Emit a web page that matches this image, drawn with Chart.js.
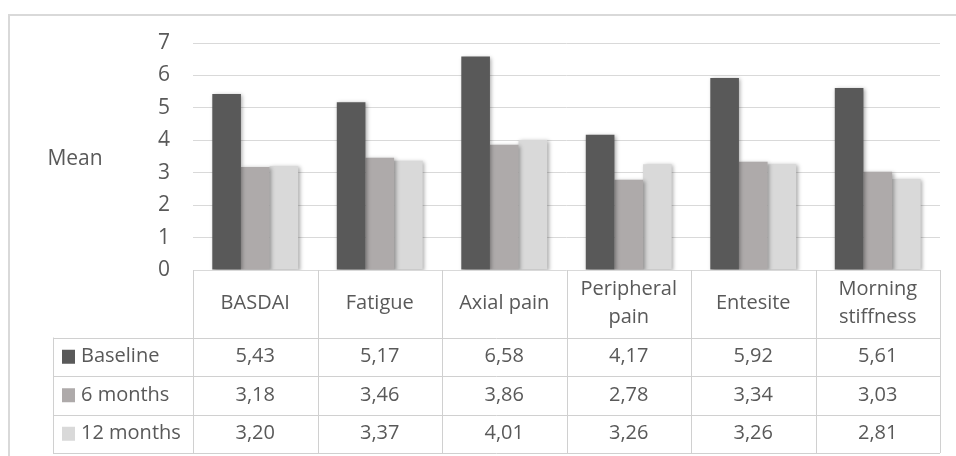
<!DOCTYPE html>
<html>
<head>
<meta charset="utf-8">
<script src="https://cdn.jsdelivr.net/npm/chart.js@4.4.1/dist/chart.umd.min.js"></script>
<style>
    html, body { margin: 0; padding: 0; background: #fff; }
    #wrap { width: 956px; height: 456px; position: relative; }
</style>
</head>
<body>
<div id="wrap"><canvas id="chart"></canvas></div>
<script>
const categories = ['BASDAI', 'Fatigue', 'Axial pain', ['Peripheral', 'pain'], 'Entesite', ['Morning', 'stiffness']];
const seriesNames = ['Baseline', '6 months', '12 months'];
const baseline = [5.43, 5.17, 6.58, 4.17, 5.92, 5.61];
const sixMonths = [3.18, 3.46, 3.86, 2.78, 3.34, 3.03];
const twelveMonths = [3.20, 3.37, 4.01, 3.26, 3.26, 2.81];
const yMin = 0, yMax = 7, yStep = 1;
const yTitle = 'Mean';

const colors = ['#595959', '#aeaaaa', '#d9d9d9'];
const textColor = '#595959';
const lineColor = '#d9d9d9';
const FONT = '"Open Sans", "Noto Sans", sans-serif';

const fmt = (v) => v.toFixed(2).replace('.', ',');

// shadow behind the bars, like the office chart
const shadowPlugin = {
    id: 'barShadow',
    beforeDatasetsDraw(chart) {
        const ctx = chart.ctx;
        ctx.save();
        ctx.shadowColor = 'rgba(0,0,0,0.35)';
        ctx.shadowBlur = 4;
        ctx.shadowOffsetX = 1.5;
        ctx.shadowOffsetY = 1;
    },
    afterDatasetsDraw(chart) {
        chart.ctx.restore();
    }
};

// outer frame + axis title
const framePlugin = {
    id: 'frame',
    beforeDraw(chart) {
        const ctx = chart.ctx;
        ctx.save();
        ctx.fillStyle = '#fff';
        ctx.fillRect(0, 0, chart.width, chart.height);
        ctx.strokeStyle = lineColor;
        ctx.lineWidth = 2;
        ctx.strokeRect(9, 15, 960, 460);
        ctx.fillStyle = textColor;
        ctx.font = '21px ' + FONT;
        ctx.textAlign = 'center';
        ctx.textBaseline = 'middle';
        ctx.fillText(yTitle, 75, 159);
        ctx.restore();
    }
};

// data table under the plot
const tablePlugin = {
    id: 'dataTable',
    afterDraw(chart) {
        const ctx = chart.ctx;
        const x = chart.scales.x;
        const area = chart.chartArea;
        const n = categories.length;
        const colW = (area.right - area.left) / n;
        const top = area.bottom;
        const headBottom = top + 67.5;
        const rowH = 38.5;
        const bottom = headBottom + rowH * seriesNames.length;
        const legendLeft = 53;
        const series = [baseline, sixMonths, twelveMonths];

        ctx.save();
        ctx.strokeStyle = '#d0d0d0';
        ctx.lineWidth = 1;
        ctx.beginPath();
        // vertical lines
        for (let i = 0; i <= n; i++) {
            const px = Math.round(area.left + i * colW) + 0.5;
            ctx.moveTo(px, top);
            ctx.lineTo(px, bottom);
        }
        ctx.moveTo(legendLeft + 0.5, headBottom);
        ctx.lineTo(legendLeft + 0.5, bottom);
        // horizontal lines
        for (let r = 0; r <= seriesNames.length; r++) {
            const py = Math.round(headBottom + r * rowH) + 0.5;
            ctx.moveTo(legendLeft, py);
            ctx.lineTo(area.right, py);
        }
        ctx.stroke();

        ctx.fillStyle = textColor;
        ctx.font = '20px ' + FONT;
        ctx.textAlign = 'center';
        ctx.textBaseline = 'middle';
        const headMid = (top + headBottom) / 2;
        categories.forEach((c, i) => {
            const cx = x.getPixelForValue(i);
            const lines = Array.isArray(c) ? c : [c];
            const lh = 28;
            lines.forEach((ln, k) => {
                ctx.fillText(ln, cx, headMid + (k - (lines.length - 1) / 2) * lh);
            });
        });

        seriesNames.forEach((name, r) => {
            const cy = headBottom + rowH * r + rowH / 2;
            ctx.fillStyle = colors[r];
            ctx.fillRect(62, cy - 7, 13, 14);
            ctx.fillStyle = textColor;
            ctx.textAlign = 'left';
            ctx.fillText(name, 81, cy);
            ctx.textAlign = 'center';
            series[r].forEach((v, i) => {
                ctx.fillText(fmt(v), x.getPixelForValue(i), cy);
            });
        });
        ctx.restore();
    }
};

const ctx = document.getElementById('chart').getContext('2d');
new Chart(ctx, {
    type: 'bar',
    data: {
        labels: categories,
        datasets: seriesNames.map((name, i) => ({
            label: name,
            data: [baseline, sixMonths, twelveMonths][i],
            backgroundColor: colors[i],
            borderWidth: 0,
            categoryPercentage: 0.69,
            barPercentage: 1.0,
        }))
    },
    options: {
        responsive: true,
        maintainAspectRatio: false,
        animation: false,
        layout: { padding: { top: 43, bottom: 186, left: 0, right: 16 } },
        plugins: {
            legend: { display: false },
            tooltip: { enabled: false },
            title: { display: false },
        },
        scales: {
            x: {
                display: false,
                grid: { display: false },
            },
            y: {
                min: yMin,
                max: yMax,
                border: { display: false },
                grid: { color: lineColor, lineWidth: 1, drawTicks: false },
                ticks: {
                    stepSize: yStep,
                    color: textColor,
                    font: { family: FONT, size: 21 },
                    padding: 23,
                },
                afterFit(scale) { scale.width = 193; },
            }
        }
    },
    plugins: [framePlugin, shadowPlugin, tablePlugin]
});
</script>
</body>
</html>
